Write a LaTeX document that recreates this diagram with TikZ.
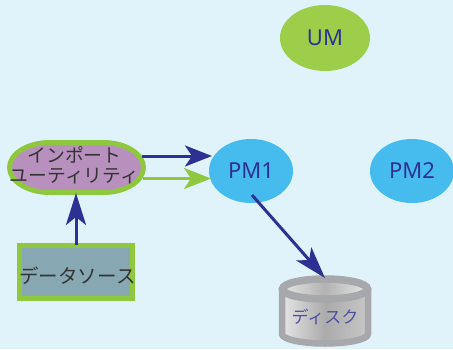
\documentclass[tikz,border=0pt]{standalone}
\usepackage{xcolor}
\usepackage{fontspec}
\setmainfont{Noto Sans}
\newfontfamily\jpfont{Noto Sans CJK JP}
\usetikzlibrary{shapes.geometric, arrows.meta, positioning}
\definecolor{pagebg}{RGB}{224,243,251}
\definecolor{leafgreen}{RGB}{157,206,74}
\definecolor{framegreen}{RGB}{143,200,62}
\definecolor{skyblue}{RGB}{69,187,238}
\definecolor{navyblue}{RGB}{46,49,146}
\definecolor{importpurple}{RGB}{184,144,190}
\definecolor{sourcegray}{RGB}{135,168,178}
\definecolor{diskgray}{RGB}{166,168,171}
\tikzset{
    module/.style={ellipse, fill=skyblue, text=navyblue, inner sep=0pt, font=\fontsize{22}{24}\selectfont},
    flow/.style={line width=3pt, -{Stealth[length=27pt, width=21pt, inset=7pt]}},
    longflow/.style={line width=3pt, -{Stealth[length=32pt, width=20pt, inset=8pt]}}
}

\begin{document}
\begin{tikzpicture}[x=1pt, y=-1pt]
    % Background
    \fill[pagebg] (0,0) rectangle (453,349);
    \useasboundingbox (0,0) rectangle (453,349);

    % Modules
    \node[module, fill=leafgreen, minimum width=90pt, minimum height=66pt] (um) at (325,38) {UM};
    \node[module, minimum width=84pt, minimum height=64pt] (pm1) at (251,171) {PM1};
    \node[module, minimum width=84pt, minimum height=64pt] (pm2) at (412,171) {PM2};

    % Import utility
    \draw[draw=framegreen, line width=5pt, fill=importpurple] (50,142.5) -- (103,142.5)
        arc[start angle=90, end angle=-90, x radius=40.5, y radius=-25] -- (50,192.5)
        arc[start angle=-90, end angle=-270, x radius=40.5, y radius=-25] -- cycle;
    \node[text=black!80, inner sep=0pt, align=center,
        font=\jpfont\fontsize{18.8}{20.5}\selectfont] (import) at (74.5,165) {インポート\\ユーティリティ};

    % Data source
    \node[rectangle, draw=framegreen, line width=5pt, fill=sourcegray, minimum width=113pt, minimum height=53pt, inner sep=0pt] (source) at (76,272) {};
    \node[text=black!80, inner sep=0pt, font=\jpfont\fontsize{19.5}{21}\selectfont] (sourcelabel) at (77.5,276) {データソース};

    % Disk
    \draw[diskgray, line width=6.5pt, left color=black!10, right color=black!22, middle color=black!33]
        (282,289) -- (282,334) arc[start angle=180, end angle=360, x radius=43, y radius=-9.5] -- (368,289);
    \draw[diskgray, line width=7.5pt, left color=black!10, right color=black!10, middle color=black!30]
        (325,289) ellipse[x radius=42.5, y radius=10];
    \node[text=navyblue!85, font=\jpfont\fontsize{17}{19}\selectfont, inner sep=0pt] (disk) at (325,317) {ディスク};

    % Arrow ends
    \coordinate (importblue) at (142,156);
    \coordinate (importgreen) at (143,178.5);
    \coordinate (pmblue) at (212,156);
    \coordinate (pmgreen) at (211,178.5);
    \coordinate (importlow) at (76,193);
    \coordinate (sourcetop) at (76,245);
    \coordinate (pmlow) at (252,195);
    \coordinate (disktop) at (325,278);

    % Arrows
    \draw[flow, framegreen] (importgreen) -- (pmgreen);
    \draw[flow, navyblue] (importblue) -- (pmblue);
    \draw[longflow, navyblue] (sourcetop) -- (importlow);
    \draw[longflow, navyblue] (pmlow) -- (disktop);
\end{tikzpicture}
\end{document}
